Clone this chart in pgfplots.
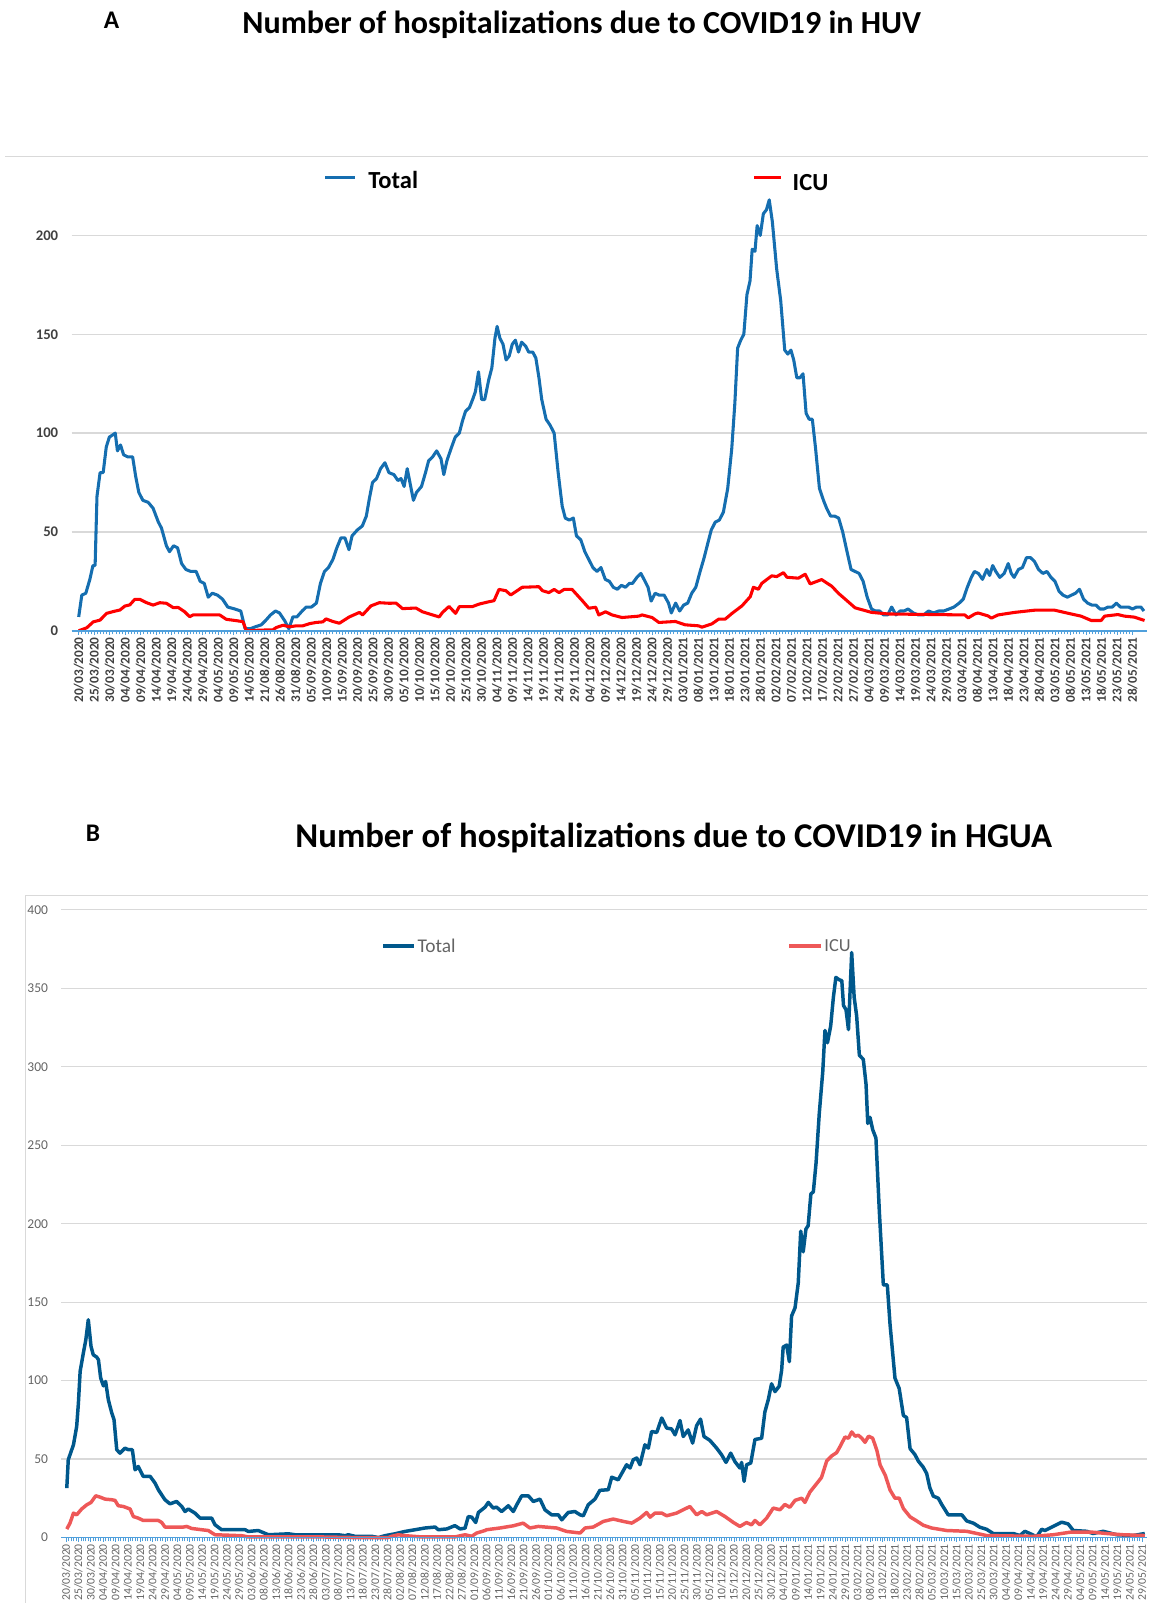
\documentclass[border=0pt]{standalone}
\usepackage{fontspec}
\setmainfont{Carlito}
\usepackage{pgfplots}
\pgfplotsset{compat=1.18}
\definecolor{totA}{RGB}{21,110,176}
\definecolor{icuA}{RGB}{255,0,0}
\definecolor{totB}{RGB}{0,88,140}
\definecolor{icuB}{RGB}{238,88,88}
\definecolor{axb}{RGB}{80,160,220}
\definecolor{gridc}{RGB}{217,217,217}
\definecolor{labA}{RGB}{64,64,64}
\definecolor{labB}{RGB}{100,100,100}
\pgfplotsset{
  covid/.style={
    scale only axis, clip=false,
    axis line style={draw=none},
    ymin=0,
    xtick pos=bottom, ytick pos=left,
    tick align=outside, major tick length=2pt, minor tick length=1.8pt,
    every tick/.style={axb, line width=0.35pt},
    ytick style={draw=none},
    minor x tick num=4,
    ymajorgrids, grid style={gridc, line width=0.6pt},
    /pgf/number format/assume math mode=true,
  }
}
\begin{document}
\begin{tikzpicture}
\useasboundingbox (0pt,0pt) rectangle (561.5pt,784pt);
% ---------------- Panel A ----------------
\node[font=\bfseries\fontsize{12.4}{14}\selectfont] at (54.5pt,774pt) {A};
\node[font=\bfseries\fontsize{15.7}{18}\selectfont] at (284.5pt,772pt) {Number of hospitalizations due to COVID19 in HUV};
\draw[gridc, line width=0.6pt] (2.5pt,707.5pt) -- (561.5pt,707.5pt);
\begin{axis}[covid, at={(35pt,475.5pt)}, anchor=south west, width=526pt, height=232pt,
  xmin=-2.3, xmax=344.7, ymax=240, ytick={0,50,...,200},
  xtick={0,5,...,340},
  xticklabels={20/03/2020,25/03/2020,30/03/2020,04/04/2020,09/04/2020,14/04/2020,19/04/2020,24/04/2020,29/04/2020,04/05/2020,09/05/2020,14/05/2020,21/08/2020,26/08/2020,31/08/2020,05/09/2020,10/09/2020,15/09/2020,20/09/2020,25/09/2020,30/09/2020,05/10/2020,10/10/2020,15/10/2020,20/10/2020,25/10/2020,30/10/2020,04/11/2020,09/11/2020,14/11/2020,19/11/2020,24/11/2020,29/11/2020,04/12/2020,09/12/2020,14/12/2020,19/12/2020,24/12/2020,29/12/2020,03/01/2021,08/01/2021,13/01/2021,18/01/2021,23/01/2021,28/01/2021,02/02/2021,07/02/2021,12/02/2021,17/02/2021,22/02/2021,27/02/2021,04/03/2021,09/03/2021,14/03/2021,19/03/2021,24/03/2021,29/03/2021,03/04/2021,08/04/2021,13/04/2021,18/04/2021,23/04/2021,28/04/2021,03/05/2021,08/05/2021,13/05/2021,18/05/2021,23/05/2021,28/05/2021},
  xticklabel style={rotate=90, anchor=east, inner sep=1pt, text=labA, font=\bfseries\fontsize{6.5}{7}\selectfont},
  yticklabel style={text=labA, font=\bfseries\fontsize{7.2}{8}\selectfont, xshift=-1pt},
]
\addplot[totA, line width=1.5pt, line join=round] coordinates {
(0,7) (1.0,18) (2.3,19) (3.6,26) (4.6,33) (5.3,33) (5.9,68) (6.9,80) (7.9,80) (8.9,93) (9.9,98) (10.9,99) (11.8,100) (12.5,91) (13.5,94) (14.5,89) (15.8,88) (17.4,88) (18.4,78) (19.4,70) (20.7,66) (22.4,65) (24.0,62) (25.7,55) (26.7,52) (28.3,43) (29.3,40) (30.6,43) (31.9,42) (33.2,34) (34.6,31) (36.2,30) (37.9,30) (39.2,25) (40.5,24) (41.8,17) (43.1,19) (44.8,18) (46.4,16) (48.1,12) (50.4,11) (52.3,10) (53.7,1) (55.3,1) (57.0,2) (58.9,3) (60.2,5) (61.9,8) (63.5,10) (64.8,9) (66.5,5) (67.8,1) (69.1,7) (70.4,7) (72.1,10) (73.4,12) (75.1,12) (76.7,14) (78.0,24) (79.3,30) (80.6,32) (82.0,36) (83.3,42) (84.6,47) (85.9,47) (87.2,41) (88.2,48) (89.9,51) (91.5,53) (92.8,58) (93.8,67) (94.8,75) (96.1,77) (97.4,82) (98.8,85) (100.1,80) (101.7,79) (103.0,76) (104.0,77) (105.0,73) (106.0,82) (107.0,74) (108.0,66) (109.0,70) (110.6,73) (111.9,80) (112.9,86) (114.2,88) (115.5,91) (116.9,87) (117.8,79) (118.8,86) (120.1,92) (121.5,98) (122.8,100) (123.8,106) (124.8,111) (126.1,113) (127.1,117) (128.0,121) (129.0,131) (130.0,117) (131.0,117) (132.3,127) (133.3,133) (134.3,148) (135.0,154) (135.9,148) (136.9,145) (137.9,137) (138.9,139) (139.9,145) (140.9,147) (141.9,141) (142.9,146) (144.2,144) (145.2,141) (146.5,141) (147.5,138) (148.5,128) (149.4,117) (150.8,107) (152.1,104) (153.4,100) (154.7,80) (156.0,63) (157.0,57) (158.3,56) (159.6,57) (160.6,48) (162.0,46) (163.3,40) (164.6,36) (165.9,32) (167.2,30) (168.5,32) (169.9,26) (171.2,25) (172.5,22) (173.8,21) (175.1,23) (176.4,22) (177.7,24) (178.7,24) (180.1,27) (181.4,29) (182.4,26) (183.7,22) (184.7,15) (186.0,19) (187.3,18) (188.9,18) (190.3,14) (191.2,9) (192.6,14) (193.9,10) (195.2,13) (196.5,14) (197.8,19) (199.1,22) (200.5,30) (201.8,37) (203.1,45) (204.1,51) (205.4,55) (206.7,56) (208.0,60) (209.4,72) (210.7,92) (211.7,115) (212.6,143) (213.6,147) (214.6,150) (215.6,170) (216.6,177) (217.3,193) (218.2,192) (218.9,205) (219.9,200) (220.9,211) (221.9,213) (222.8,218) (223.8,207) (225.2,183) (226.5,167) (227.8,142) (228.8,140) (229.8,142) (230.7,137) (231.7,128) (232.7,128) (233.7,130) (234.7,110) (235.7,107) (236.7,107) (237.7,93) (239.0,72) (240.3,66) (241.3,62) (242.6,58) (243.9,58) (245.2,57) (246.5,50) (247.9,40) (249.2,31) (250.5,30) (251.8,29) (253.1,25) (254.4,17) (255.8,11) (257.1,10) (258.4,10) (259.7,8) (261.0,8) (262.3,12) (263.7,8) (265.0,10) (266.3,10) (267.6,11) (269.3,9) (270.9,8) (272.6,8) (274.2,10) (275.8,9) (277.5,10) (279.1,10) (280.8,11) (282.4,12) (284.1,14) (285.4,16) (286.7,22) (288.0,27) (289.0,30) (290.3,29) (291.6,26) (293.0,31) (293.9,28) (294.9,33) (295.9,30) (297.2,27) (298.6,29) (299.9,34) (300.9,29) (301.8,27) (303.2,31) (304.5,32) (305.8,37) (307.1,37) (308.4,35) (309.7,31) (311.1,29) (312.4,30) (313.7,27) (315.0,25) (316.3,20) (317.6,18) (319.0,17) (320.3,18) (321.6,19) (322.9,21) (324.2,16) (325.5,14) (326.9,13) (328.2,13) (329.5,11) (330.8,11) (332.1,12) (333.5,12) (334.8,14) (336.1,12) (337.4,12) (338.7,12) (340.0,11) (341.3,12) (342.7,12) (343.7,10)
};
\addplot[icuA, line width=1.5pt, line join=round] coordinates {
(0,0) (2.6,1.5) (4.7,4.5) (6.9,5.4) (9.0,8.8) (11.1,9.7) (13.3,10.5) (14.9,12.5) (16.5,13.1) (18.1,15.9) (19.7,15.9) (21.9,14.2) (24.0,13) (26.2,14.2) (28.3,13.9) (30.5,11.7) (32.1,11.8) (34.2,9.6) (35.8,7.1) (36.9,8) (45.5,8) (47.6,5.8) (50.9,5.1) (53.0,4.6) (54.1,0) (58.4,0.3) (62.7,0.5) (63.7,1.6) (65.9,2.8) (68.0,2) (70.2,2.5) (72.3,2.5) (74.5,3.6) (76.6,4.2) (78.8,4.5) (79.8,6) (82.0,4.7) (84.1,3.8) (87.3,7) (90.6,9.3) (91.6,8) (94.3,12.6) (97.0,14.2) (100.2,13.9) (102.4,14) (104.5,11.2) (108.8,11.5) (110.9,9.6) (114.2,8) (116.3,7) (117.4,9.3) (119.5,12.3) (121.6,8.8) (122.8,12.2) (127.0,12.2) (129.2,13.5) (132.4,14.7) (134.0,15.2) (135.6,20.9) (137.8,20.3) (139.4,18.1) (141.0,19.8) (143.1,22) (148.5,22.3) (149.6,20.3) (151.7,19.3) (153.4,20.9) (155.0,19.3) (156.6,20.9) (159.2,20.9) (162.5,15.2) (164.6,11.4) (166.8,11.9) (167.8,8) (170.0,9.6) (172.1,8) (175.3,6.7) (180.7,7.4) (181.8,8) (185.0,6.7) (187.2,4.2) (192.5,4.7) (195.7,3) (200.0,2.5) (201.1,1.8) (204.3,3.5) (206.5,5.9) (208.6,5.9) (210.8,8.8) (214.0,12.6) (216.7,17.3) (217.7,22) (219.3,21) (220.4,24) (223.6,27.8) (225.2,27.4) (227.4,29.4) (228.5,27.1) (229.0,27) (232.2,26.6) (234.4,28.6) (236.0,23.7) (239.7,25.9) (243.0,22.5) (245.1,19) (247.3,16) (250.5,11.6) (255.8,9.3) (261.2,8.5) (285.9,8) (287.0,6.5) (289.1,8.5) (290.2,9) (293.4,7.5) (294.5,6.4) (296.6,8) (302.0,9.3) (308.4,10.4) (314.9,10.4) (320.2,8.5) (323.4,7.4) (326.7,5.2) (329.9,5.2) (331.0,7.4) (335.3,8.2) (337.4,7.4) (340.6,6.9) (343.9,5.2)
};
\draw[axb, line width=0.8pt] (rel axis cs:0,0) -- (rel axis cs:1,0);
\end{axis}
% legend A
\draw[totA, line width=1.5pt] (159pt,697pt) -- (173.5pt,697pt);
\node[anchor=west, inner sep=0pt, font=\bfseries\fontsize{12}{14}\selectfont] at (180pt,696pt) {Total};
\draw[icuA, line width=1.5pt] (369pt,697pt) -- (382pt,697pt);
\node[anchor=west, inner sep=0pt, font=\bfseries\fontsize{12}{14}\selectfont] at (387.5pt,694.5pt) {ICU};
% ---------------- Panel B ----------------
\node[font=\bfseries\fontsize{12.4}{14}\selectfont] at (45.5pt,376.5pt) {B};
\node[font=\bfseries\fontsize{17}{20}\selectfont] at (329.5pt,374pt) {Number of hospitalizations due to COVID19 in HGUA};
\draw[gridc, line width=0.6pt] (12.5pt,0pt) -- (12.5pt,346pt) -- (561.5pt,346pt);
\begin{axis}[covid, at={(30pt,32pt)}, anchor=south west, width=531pt, height=307pt,
  xmin=-1.9, xmax=437, ymax=400, ytick={0,50,...,400},
  xtick={0,5,...,435},
  xticklabels={20/03/2020,25/03/2020,30/03/2020,04/04/2020,09/04/2020,14/04/2020,19/04/2020,24/04/2020,29/04/2020,04/05/2020,09/05/2020,14/05/2020,19/05/2020,24/05/2020,29/05/2020,03/06/2020,08/06/2020,13/06/2020,18/06/2020,23/06/2020,28/06/2020,03/07/2020,08/07/2020,13/07/2020,18/07/2020,23/07/2020,28/07/2020,02/08/2020,07/08/2020,12/08/2020,17/08/2020,22/08/2020,27/08/2020,01/09/2020,06/09/2020,11/09/2020,16/09/2020,21/09/2020,26/09/2020,01/10/2020,06/10/2020,11/10/2020,16/10/2020,21/10/2020,26/10/2020,31/10/2020,05/11/2020,10/11/2020,15/11/2020,20/11/2020,25/11/2020,30/11/2020,05/12/2020,10/12/2020,15/12/2020,20/12/2020,25/12/2020,30/12/2020,04/01/2021,09/01/2021,14/01/2021,19/01/2021,24/01/2021,29/01/2021,03/02/2021,08/02/2021,13/02/2021,18/02/2021,23/02/2021,28/02/2021,05/03/2021,10/03/2021,15/03/2021,20/03/2021,25/03/2021,30/03/2021,04/04/2021,09/04/2021,14/04/2021,19/04/2021,24/04/2021,29/04/2021,04/05/2021,09/05/2021,14/05/2021,19/05/2021,24/05/2021,29/05/2021},
  xticklabel style={rotate=90, anchor=east, inner sep=1pt, text=labB, font=\fontsize{5.7}{6.5}\selectfont},
  yticklabel style={text=labB, font=\fontsize{6.6}{8}\selectfont, xshift=-1pt},
]
\addplot[totB, line width=1.7pt, line join=round] coordinates {
(0.3,31.5) (0.9,49.6) (3.0,59.1) (4.3,70.8) (5.0,85.7) (5.7,105.9) (7.0,117.6) (8.0,126) (9.0,138.8) (10.1,121.8) (11.0,116.5) (12.4,115) (13.1,113.3) (14.0,101.7) (15.1,96.7) (16.0,99.5) (17.1,87.8) (18.5,79.3) (19.4,75.1) (20.5,56) (21.8,53.8) (23.8,57) (25.2,56) (26.8,56) (27.9,43.2) (29.2,45.3) (31.2,39) (34.0,39) (36.0,34.7) (37.3,30.5) (40.0,24.1) (42.0,21.5) (44.7,23) (46.8,19.8) (48.1,16.6) (49.4,18.2) (52.1,15.6) (54.2,12.4) (58.9,12.4) (60.2,8.2) (62.9,5) (72.4,5) (73.7,3.9) (77.7,4.5) (81.8,1.8) (89.9,2.4) (92.6,1.8) (110.1,1.8) (112.8,1.2) (114.1,1.8) (116.8,0.8) (123.6,0.8) (126.3,0) (128.9,1.2) (133.0,2.4) (137.0,3.9) (141.1,5) (145.1,6.1) (149.2,6.7) (150.5,5) (153.9,5.5) (157.2,7.6) (159.3,5.5) (161.3,6) (162.6,13.4) (164.0,13) (165.6,9.6) (166.7,16) (169.4,19.4) (170.7,22.4) (172.7,18.8) (174.0,19.4) (176.1,16.6) (178.8,20.3) (180.8,16.6) (182.2,20.9) (184.2,26.6) (186.9,26.6) (188.9,23) (191.6,24.5) (193.6,17.7) (196.3,14.5) (199.0,14.5) (200.4,11.3) (203.0,16) (205.7,16.6) (207.8,14.5) (209.1,13.9) (211.1,20.9) (213.8,24.5) (215.8,30.1) (219.2,30.5) (220.6,38.5) (223.2,36.8) (226.6,46.4) (228.0,44.3) (229.3,49.6) (230.7,50.7) (232.0,46.4) (234.0,59.1) (235.4,57) (236.7,67.6) (238.8,67) (240.8,76.2) (242.8,69.8) (244.8,69.2) (246.2,65.5) (248.2,74.6) (249.5,64.4) (251.5,68.6) (253.3,60.2) (254.9,71.3) (256.5,75.5) (257.9,64.4) (260.3,61.9) (263.0,57) (265.0,52.8) (266.8,47.9) (268.7,53.8) (270.4,48.4) (272.4,44.3) (273.1,47.9) (274.1,35.8) (275.1,46.4) (276.8,47.5) (278.5,62.5) (281.2,63.3) (282.5,80) (283.9,88) (285.2,98) (286.6,93) (288.3,96.5) (289.3,106.9) (289.9,121.4) (291.3,122.7) (292.4,112.1) (293.3,141.2) (294.7,146.4) (296.0,162.3) (297.0,195.3) (298.0,182.1) (299.1,196.6) (300.0,198.7) (301.1,219) (302.1,220.3) (303.2,238.8) (304.5,270.4) (305.9,296.8) (306.8,323.2) (307.8,315.3) (309.1,325.9) (310.2,344.3) (311.2,357) (312.6,355.4) (313.6,354.9) (314.3,339) (315.3,336.4) (316.3,323.7) (317.6,372.8) (318.6,344.3) (319.6,332.5) (320.7,307.4) (322.3,304.7) (323.4,288.9) (324.1,263.9) (325.0,267.8) (326.1,259.9) (327.4,254.6) (328.8,207.1) (330.4,161) (332.0,161) (333.1,135.9) (335.1,101.6) (336.8,95) (338.5,77.8) (339.8,76.5) (341.2,56.7) (343.2,52.8) (344.5,48.8) (346.5,44.9) (347.9,40.9) (349.2,31.7) (350.6,26.4) (352.6,25.1) (354.0,21.1) (356.6,14.5) (362.1,14.5) (364.1,10.6) (366.8,9.2) (369.4,6.6) (372.1,5.3) (374.8,2.6) (382.9,2.6) (385.6,1.3) (387.6,4) (389.6,2.6) (392.4,0.5) (394.4,5.3) (395.7,4.5) (398.4,6.6) (402.5,9.8) (405.1,8.7) (407.2,4.5) (412.6,4) (415.2,2.6) (419.3,4) (424.7,1.8) (431.4,1.3) (436.1,2.6)
};
\addplot[icuB, line width=1.7pt, line join=round] coordinates {
(0.3,5.4) (1.6,9.2) (3.0,15.6) (4.3,14.5) (6.3,18.2) (8.4,20.9) (10.1,22.4) (12.0,26.6) (13.7,25.8) (15.8,24.5) (18.5,24.1) (19.8,23.7) (21.1,20.3) (23.2,19.8) (25.9,18.2) (27.2,13.4) (29.2,12.4) (31.2,10.9) (37.3,10.9) (38.7,9.6) (40.0,6.7) (47.4,6.7) (48.8,7.1) (50.8,5.8) (54.8,5) (57.5,4.5) (60.2,1.8) (71.0,1.2) (73.7,0.4) (103.3,0.4) (116.8,0) (130.3,0) (131.6,0.8) (134.3,1.8) (137.0,1.2) (143.8,0.4) (157.2,0.4) (161.3,1.8) (164.0,0.8) (166.0,2.9) (169.4,4.5) (170.0,5) (175.4,6.1) (180.8,7.5) (184.8,9.2) (187.5,6.1) (190.9,7.1) (198.3,6.1) (202.4,3.9) (207.8,2.9) (209.8,6.1) (213.1,6.7) (217.2,10.3) (221.2,11.8) (225.3,10.3) (228.7,9.2) (232.0,12.4) (234.7,16) (236.1,13) (238.1,15.6) (240.8,15.6) (242.8,13.9) (246.8,15.6) (249.5,17.7) (252.2,19.8) (254.9,14.5) (257.0,16.6) (259.0,14.5) (263.0,16.6) (266.4,13.4) (269.8,9.6) (272.4,7.1) (275.1,9.6) (277.1,8.1) (278.5,10.9) (280.5,8.1) (283.2,12.4) (285.9,18.8) (288.6,17.7) (290.6,21.1) (292.6,19.3) (294.7,23.7) (297.4,25.1) (298.7,22.4) (300.7,29) (303.4,34.3) (305.4,38.3) (307.5,48.8) (309.5,52) (311.5,54.1) (312.9,58) (314.9,64.1) (316.3,63.3) (317.6,67.3) (319.0,64.6) (320.3,65.2) (321.7,63.3) (323.0,60.7) (324.4,64.6) (326.1,63.3) (327.8,55.4) (329.1,46.2) (331.2,39.6) (333.1,30.3) (335.1,25.1) (336.8,25.1) (338.5,18.5) (341.2,13.2) (343.9,10.6) (346.5,7.9) (349.9,6.1) (356.0,4.5) (364.1,4) (372.1,1.3) (391.0,0.8) (399.1,1.8) (405.8,3.4) (415.2,3.4) (420.6,2.6) (427.3,1.8) (436.1,1.3)
};
\draw[axb, line width=0.8pt] (rel axis cs:0,0) -- (rel axis cs:1,0);
\end{axis}
% legend B
\draw[totB, line width=2pt] (187.5pt,321.5pt) -- (202.5pt,321.5pt);
\node[anchor=west, inner sep=0pt, text=labB, font=\fontsize{9.5}{11}\selectfont] at (204pt,321.5pt) {Total};
\draw[icuB, line width=2pt] (386pt,321.5pt) -- (401.5pt,321.5pt);
\node[anchor=west, inner sep=0pt, text=labB, font=\fontsize{9}{11}\selectfont] at (403pt,321.5pt) {ICU};
\end{tikzpicture}
\end{document}
